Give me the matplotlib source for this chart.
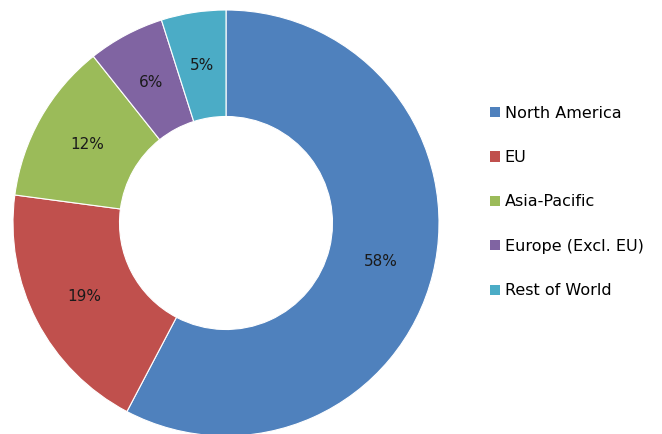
import matplotlib.pyplot as plt
from matplotlib.patches import Patch

# Données
regions = ['North America', 'EU', 'Asia-Pacific', 'Europe (Excl. EU)', 'Rest of World']
shares = [57.7, 19.4, 12.2, 5.8, 4.9]
colors = ['#4F81BD', '#C0504D', '#9BBB59', '#8064A2', '#4BACC6']

plt.rcParams['font.family'] = ['DejaVu Sans']

fig = plt.figure(figsize=(6.62, 4.34), dpi=100)
ax = fig.add_axes([13 / 662, -2 / 434, 426 / 662, 426 / 434])

wedges, texts, autotexts = ax.pie(
    shares, colors=colors, startangle=90, counterclock=False,
    autopct='%.0f%%', pctdistance=0.75, radius=1,
    wedgeprops=dict(width=0.5, edgecolor='white', linewidth=0.8),
    textprops=dict(fontsize=11, color='#1a1a1a'))
ax.set_xlim(-1, 1)
ax.set_ylim(-1, 1)
ax.set_aspect('equal')
ax.axis('off')

handles = [Patch(facecolor=c, edgecolor='none') for c in colors]
fig.legend(handles, regions, loc='center left', bbox_to_anchor=(484 / 662, 1 - 202 / 434),
           frameon=False, fontsize=11.5, handlelength=0.6, handleheight=0.6,
           handletextpad=0.3, labelspacing=1.84, borderaxespad=0)

fig.savefig('out.png', dpi=100)
